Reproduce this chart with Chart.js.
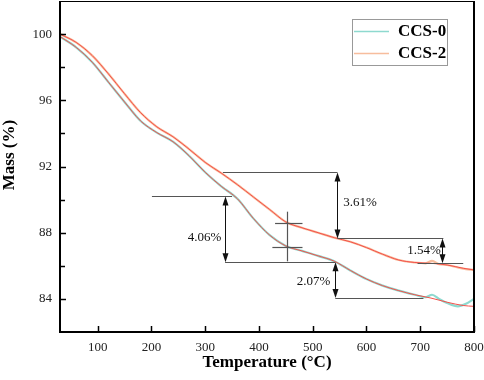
<!DOCTYPE html>
<html><head><meta charset="utf-8">
<script src="https://cdn.jsdelivr.net/npm/chart.js@4"></script>
<style>html,body{margin:0;padding:0;background:#fff}</style>
</head><body>
<canvas id="c" width="484" height="380"></canvas>
<script>
// ---- data ----
const fitTemps = [30,60,90,120,150,180,210,240,270,300,330,360,390,420,450,480,510,540,570,600,630,660,690,720,750,780,800];
const ccs0Fit  = [99.85,99.2,98.3,97.1,95.9,94.75,94.05,93.5,92.65,91.65,90.8,90.05,88.85,87.85,87.2,86.9,86.6,86.28,85.72,85.2,84.8,84.5,84.25,84.05,83.8,83.6,83.55];
const ccs2Fit  = [100.0,99.5,98.7,97.6,96.4,95.25,94.4,93.8,93.05,92.25,91.6,90.9,90.15,89.4,88.65,88.3,88.0,87.7,87.45,87.1,86.7,86.35,86.2,86.15,86.05,85.85,85.75];
const rawTemps = [30,60,90,120,150,180,210,240,270,300,330,360,390,420,450,480,510,540,570,600,630,660,690,710,722,735,750,770,785,800];
const ccs0Raw  = [99.85,99.2,98.3,97.1,95.9,94.75,94.05,93.5,92.65,91.65,90.8,90.05,88.85,87.85,87.2,86.9,86.6,86.28,85.72,85.2,84.8,84.5,84.25,84.1,84.25,84.0,83.75,83.55,83.7,84.0];
const ccs2Raw  = [100.0,99.5,98.7,97.6,96.4,95.25,94.4,93.8,93.05,92.25,91.6,90.9,90.15,89.4,88.65,88.3,88.0,87.7,87.45,87.1,86.7,86.35,86.2,86.15,86.3,86.1,86.05,85.9,85.8,85.75];
const seriesNames = ['CCS-0','CCS-2'];
const xTickValues = [100,200,300,400,500,600,700,800];
const yTickValues = [84,86,88,90,92,94,96,98,100];
const yLabelValues = [84,88,92,96,100];
// annotation values in data units: [mass, tStart, tEnd]
const hLines = [[90.19,201,350],[86.22,337,542],[84.05,542,706],[91.64,333,546],[87.65,546,743],[86.15,695,780],[88.6,430,481],[87.12,425,481]];
// vertical: [t, massFrom, massTo]
const vLines = [[453,89.27,86.27]];
// double arrows: [t, massTop, massBottom]
const arrows = [[337,90.19,86.22],[542,86.22,84.05],[546,91.64,87.65],[741,87.65,86.15]];
// labels: [text, t, mass, align]
const annoLabels = [['4.06%',330,87.72,'right'],['2.07%',533,85.03,'right'],['3.61%',557,89.82,'left'],['1.54%',676,86.94,'left']];

const pts = (xs, ys) => xs.map((x,i)=>({x:x,y:ys[i]}));
const SERIF = '"Liberation Serif","Times New Roman",serif';

const decor = {
  id:'decor',
  afterDatasetsDraw(chart){
    const {ctx, chartArea:a, scales:{x,y}} = chart;
    ctx.save();
    // annotation lines
    ctx.strokeStyle = '#555'; ctx.lineWidth = 1.2;
    hLines.forEach(([m,t1,t2])=>{
      const py = Math.round(y.getPixelForValue(m))+0.5;
      ctx.beginPath(); ctx.moveTo(x.getPixelForValue(t1),py); ctx.lineTo(x.getPixelForValue(t2),py); ctx.stroke();
    });
    vLines.forEach(([t,m1,m2])=>{
      const px = Math.round(x.getPixelForValue(t))+0.5;
      ctx.beginPath(); ctx.moveTo(px,y.getPixelForValue(m1)); ctx.lineTo(px,y.getPixelForValue(m2)); ctx.stroke();
    });
    ctx.strokeStyle = '#111'; ctx.fillStyle = '#111'; ctx.lineWidth = 1;
    arrows.forEach(([t,m1,m2])=>{
      const px = Math.round(x.getPixelForValue(t))+0.5;
      const p1 = y.getPixelForValue(m1), p2 = y.getPixelForValue(m2);
      ctx.beginPath(); ctx.moveTo(px,p1+6); ctx.lineTo(px,p2-6); ctx.stroke();
      ctx.beginPath(); ctx.moveTo(px,p1); ctx.lineTo(px-3,p1+9); ctx.lineTo(px+3,p1+9); ctx.closePath(); ctx.fill();
      ctx.beginPath(); ctx.moveTo(px,p2); ctx.lineTo(px-3,p2-9); ctx.lineTo(px+3,p2-9); ctx.closePath(); ctx.fill();
    });
    ctx.font = '13px '+SERIF; ctx.textBaseline = 'middle'; ctx.fillStyle = '#111';
    annoLabels.forEach(([s,t,m,al])=>{
      ctx.textAlign = al; ctx.fillText(s, x.getPixelForValue(t), y.getPixelForValue(m));
    });
    // frame
    ctx.strokeStyle = '#000';
    ctx.lineWidth = 1;
    ctx.beginPath(); ctx.moveTo(a.left, a.top+0.5); ctx.lineTo(a.right, a.top+0.5); ctx.stroke();
    ctx.lineWidth = 2;
    ctx.beginPath(); ctx.moveTo(a.left, a.top); ctx.lineTo(a.left, a.bottom); ctx.lineTo(a.right, a.bottom); ctx.lineTo(a.right, a.top); ctx.stroke();
    // inner ticks
    ctx.lineWidth = 1.5;
    xTickValues.forEach(v=>{
      const px = Math.round(x.getPixelForValue(v))+0.5;
      ctx.beginPath(); ctx.moveTo(px,a.bottom); ctx.lineTo(px,a.bottom-6); ctx.stroke();
    });
    yTickValues.forEach(v=>{
      const py = Math.round(y.getPixelForValue(v))+0.5;
      const len = yLabelValues.includes(v) ? 6 : 5;
      ctx.beginPath(); ctx.moveTo(a.left,py); ctx.lineTo(a.left+len,py); ctx.stroke();
    });
    // axis titles
    ctx.fillStyle = '#000';
    ctx.font = 'bold 17px '+SERIF; ctx.textAlign = 'center'; ctx.textBaseline = 'middle';
    ctx.fillText('Temperature (\u00B0C)', (a.left+a.right)/2, 363);
    ctx.save(); ctx.translate(10,155); ctx.rotate(-Math.PI/2);
    ctx.fillText('Mass (%)', 0, 0); ctx.restore();
    // legend
    const lx = 352, ly = 19, lw = 95, lh = 46;
    ctx.fillStyle = '#fff'; ctx.fillRect(lx,ly,lw,lh);
    ctx.strokeStyle = '#999'; ctx.lineWidth = 1; ctx.strokeRect(lx+0.5,ly+0.5,lw,lh);
    const legCols = [chart.data.datasets[0].borderColor, chart.data.datasets[1].borderColor];
    ctx.font = 'bold 17px '+SERIF; ctx.textAlign = 'left'; ctx.fillStyle = '#000';
    seriesNames.forEach((n,i)=>{
      const yy = ly + 12 + i*22;
      ctx.strokeStyle = legCols[i]; ctx.lineWidth = 1.3;
      ctx.beginPath(); ctx.moveTo(lx+2,yy+0.5); ctx.lineTo(lx+37,yy+0.5); ctx.stroke();
      ctx.fillText(n, lx+46, yy+1);
    });
    ctx.restore();
  }
};

new Chart(document.getElementById('c'), {
  type:'line',
  data:{datasets:[
    {label:seriesNames[0], data:pts(rawTemps,ccs0Raw), borderColor:'#8ed9cf', borderWidth:2.2, pointRadius:0, order:2, cubicInterpolationMode:'monotone'},
    {label:seriesNames[1], data:pts(rawTemps,ccs2Raw), borderColor:'#f7bd9d', borderWidth:2.2, pointRadius:0, order:2, cubicInterpolationMode:'monotone'},
    {label:seriesNames[0]+' fit', data:pts(fitTemps,ccs0Fit), borderColor:'#f4504a', borderWidth:1, pointRadius:0, order:1, cubicInterpolationMode:'monotone'},
    {label:seriesNames[1]+' fit', data:pts(fitTemps,ccs2Fit), borderColor:'#f4504a', borderWidth:1, pointRadius:0, order:1, cubicInterpolationMode:'monotone'}
  ]},
  options:{
    responsive:false, animation:false, devicePixelRatio:1,
    layout:{padding:{left:0,top:1,right:10,bottom:0}},
    plugins:{legend:{display:false}, tooltip:{enabled:false}},
    scales:{
      x:{type:'linear', min:30, max:800,
        afterBuildTicks:s=>{s.ticks = xTickValues.map(v=>({value:v}));},
        afterFit:s=>{s.height = 48; s.paddingLeft = 0; s.paddingRight = 0;},
        grid:{display:false, drawTicks:false, tickLength:0}, border:{display:false},
        ticks:{font:{family:SERIF,size:13}, color:'#222', padding:8, maxRotation:0}},
      y:{type:'linear', min:82, max:102,
        afterBuildTicks:s=>{s.ticks = yLabelValues.map(v=>({value:v}));},
        afterFit:s=>{s.width = 60; s.paddingTop = 0; s.paddingBottom = 0;},
        grid:{display:false, drawTicks:false, tickLength:0}, border:{display:false},
        ticks:{font:{family:SERIF,size:13}, color:'#222', padding:8}}
    }
  },
  plugins:[decor]
});
</script>
</body></html>
